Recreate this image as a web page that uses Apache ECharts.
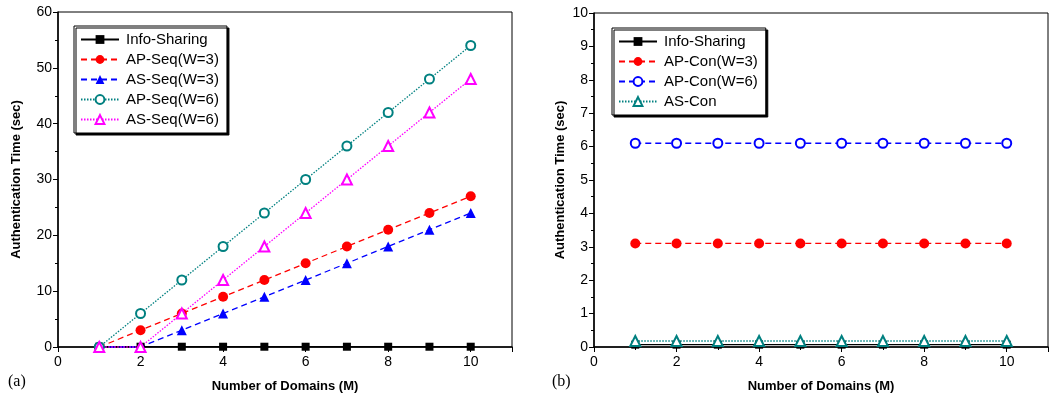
<!DOCTYPE html>
<html>
<head>
<meta charset="utf-8">
<script src="https://cdn.jsdelivr.net/npm/echarts@6/dist/echarts.min.js"></script>
<style>
  html, body { margin: 0; padding: 0; background: #fff; }
  #chart { width: 1051px; height: 398px; }
</style>
</head>
<body>
<div id="chart"></div>
<script>
// x values (number of domains)
const domains = [1, 2, 3, 4, 5, 6, 7, 8, 9, 10];

// panel (a): sequential schemes
const infoSharingA = [0.05, 0.05, 0.05, 0.05, 0.05, 0.05, 0.05, 0.05, 0.05, 0.05];
const apSeqW3 = [0, 3, 6, 9, 12, 15, 18, 21, 24, 27];
const asSeqW3 = [0, 0, 3, 6, 9, 12, 15, 18, 21, 24];
const apSeqW6 = [0, 6, 12, 18, 24, 30, 36, 42, 48, 54];
const asSeqW6 = [0, 0, 6, 12, 18, 24, 30, 36, 42, 48];

// panel (b): concurrent schemes
const infoSharingB = [0.07, 0.07, 0.07, 0.07, 0.07, 0.07, 0.07, 0.07, 0.07, 0.07];
const apConW3 = [3.1, 3.1, 3.1, 3.1, 3.1, 3.1, 3.1, 3.1, 3.1, 3.1];
const apConW6 = [6.1, 6.1, 6.1, 6.1, 6.1, 6.1, 6.1, 6.1, 6.1, 6.1];
const asCon = [0.18, 0.18, 0.18, 0.18, 0.18, 0.18, 0.18, 0.18, 0.18, 0.18];

const legendA = ["Info-Sharing", "AP-Seq(W=3)", "AS-Seq(W=3)", "AP-Seq(W=6)", "AS-Seq(W=6)"];
const legendB = ["Info-Sharing ", "AP-Con(W=3)", "AP-Con(W=6)", "AS-Con"];

const FONT = "Liberation Sans";
const pairs = (ys) => domains.map((x, i) => [x, ys[i]]);

function xAxis(gridIndex) {
  return {
    type: "value", gridIndex, min: 0, max: 11, interval: 2,
    name: "Number of Domains (M)", nameLocation: "middle", nameGap: 33,
    nameTextStyle: { fontFamily: FONT, fontWeight: "bold", fontSize: 13, color: "#000" },
    axisLine: { lineStyle: { color: "#000", width: 1.5 } },
    axisTick: { inside: false, length: 5, lineStyle: { color: "#000" } },
    minorTick: { show: true, splitNumber: 2, length: 3, lineStyle: { color: "#000" } },
    axisLabel: { fontFamily: FONT, fontSize: 14, color: "#000", margin: 8,
      formatter: (v) => (v > 10 ? "" : v) },
    splitLine: { show: false }
  };
}

function yAxis(gridIndex, max, interval, gap) {
  return {
    type: "value", gridIndex, min: 0, max, interval,
    name: "Authentication Time (sec)", nameLocation: "middle", nameGap: gap,
    nameTextStyle: { fontFamily: FONT, fontWeight: "bold", fontSize: 13, color: "#000" },
    axisLine: { show: true, lineStyle: { color: "#000", width: 1.5 } },
    axisTick: { show: true, length: 5, lineStyle: { color: "#000" } },
    minorTick: { show: true, splitNumber: 2, length: 3, lineStyle: { color: "#000" } },
    axisLabel: { fontFamily: FONT, fontSize: 14, color: "#000", margin: 6 },
    splitLine: { show: false }
  };
}

function line(name, data, xi, color, dash, symbol, size) {
  return {
    name, type: "line", xAxisIndex: xi, yAxisIndex: xi, data: pairs(data),
    symbol, symbolSize: size, showAllSymbol: true,
    lineStyle: { color, width: 1.3, type: dash },
    itemStyle: { color, borderWidth: 1.1 },
    emphasis: { disabled: true }, z: 3, clip: false
  };
}

function legend(data, left, top) {
  return {
    data, left, top, orient: "vertical", itemGap: 5, itemWidth: 38, itemHeight: 11,
    padding: [6, 8, 6, 6], borderColor: "#000", borderWidth: 1, backgroundColor: "#fff",
    shadowColor: "#000", shadowOffsetX: 2, shadowOffsetY: 2, shadowBlur: 0,
    textStyle: { fontFamily: FONT, fontSize: 15, color: "#000", padding: [0, 0, 0, 2] }
  };
}

const chart = echarts.init(document.getElementById("chart"), null, { renderer: "canvas" });
chart.setOption({
  animation: false,
  backgroundColor: "#fff",
  grid: [
    { left: 58, top: 12, width: 454, height: 336, show: true, borderColor: "#000", borderWidth: 1 },
    { left: 594, top: 13, width: 462, height: 336, show: true, borderColor: "#000", borderWidth: 1 }
  ],
  xAxis: [xAxis(0), xAxis(1)],
  yAxis: [yAxis(0, 60, 10, 35), yAxis(1, 10, 1, 27)],
  legend: [legend(legendA, 74, 26), legend(legendB, 612, 28)],
  graphic: [
    { type: "text", left: 8, top: 374, style: { text: "(a)", font: "16px 'Liberation Serif'", fill: "#000" } },
    { type: "text", left: 552, top: 374, style: { text: "(b)", font: "16px 'Liberation Serif'", fill: "#000" } }
  ],
  series: [
    line("Info-Sharing", infoSharingA, 0, "#000", "solid", "rect", 8),
    line("AP-Seq(W=3)", apSeqW3, 0, "#ff0000", [6, 4], "circle", 10),
    line("AS-Seq(W=3)", asSeqW3, 0, "#0000ff", [6, 4], "triangle", 10),
    line("AP-Seq(W=6)", apSeqW6, 0, "#008080", [1.5, 1.5], "emptyCircle", 9),
    line("AS-Seq(W=6)", asSeqW6, 0, "#ff00ff", [1.5, 1.5], "emptyTriangle", 10),
    line("Info-Sharing ", infoSharingB, 1, "#000", "solid", "rect", 8),
    line("AP-Con(W=3)", apConW3, 1, "#ff0000", [6, 4], "circle", 10),
    line("AP-Con(W=6)", apConW6, 1, "#0000ff", [6, 4], "emptyCircle", 9),
    line("AS-Con", asCon, 1, "#008080", [1.5, 1.5], "emptyTriangle", 10)
  ]
});
</script>
</body>
</html>
